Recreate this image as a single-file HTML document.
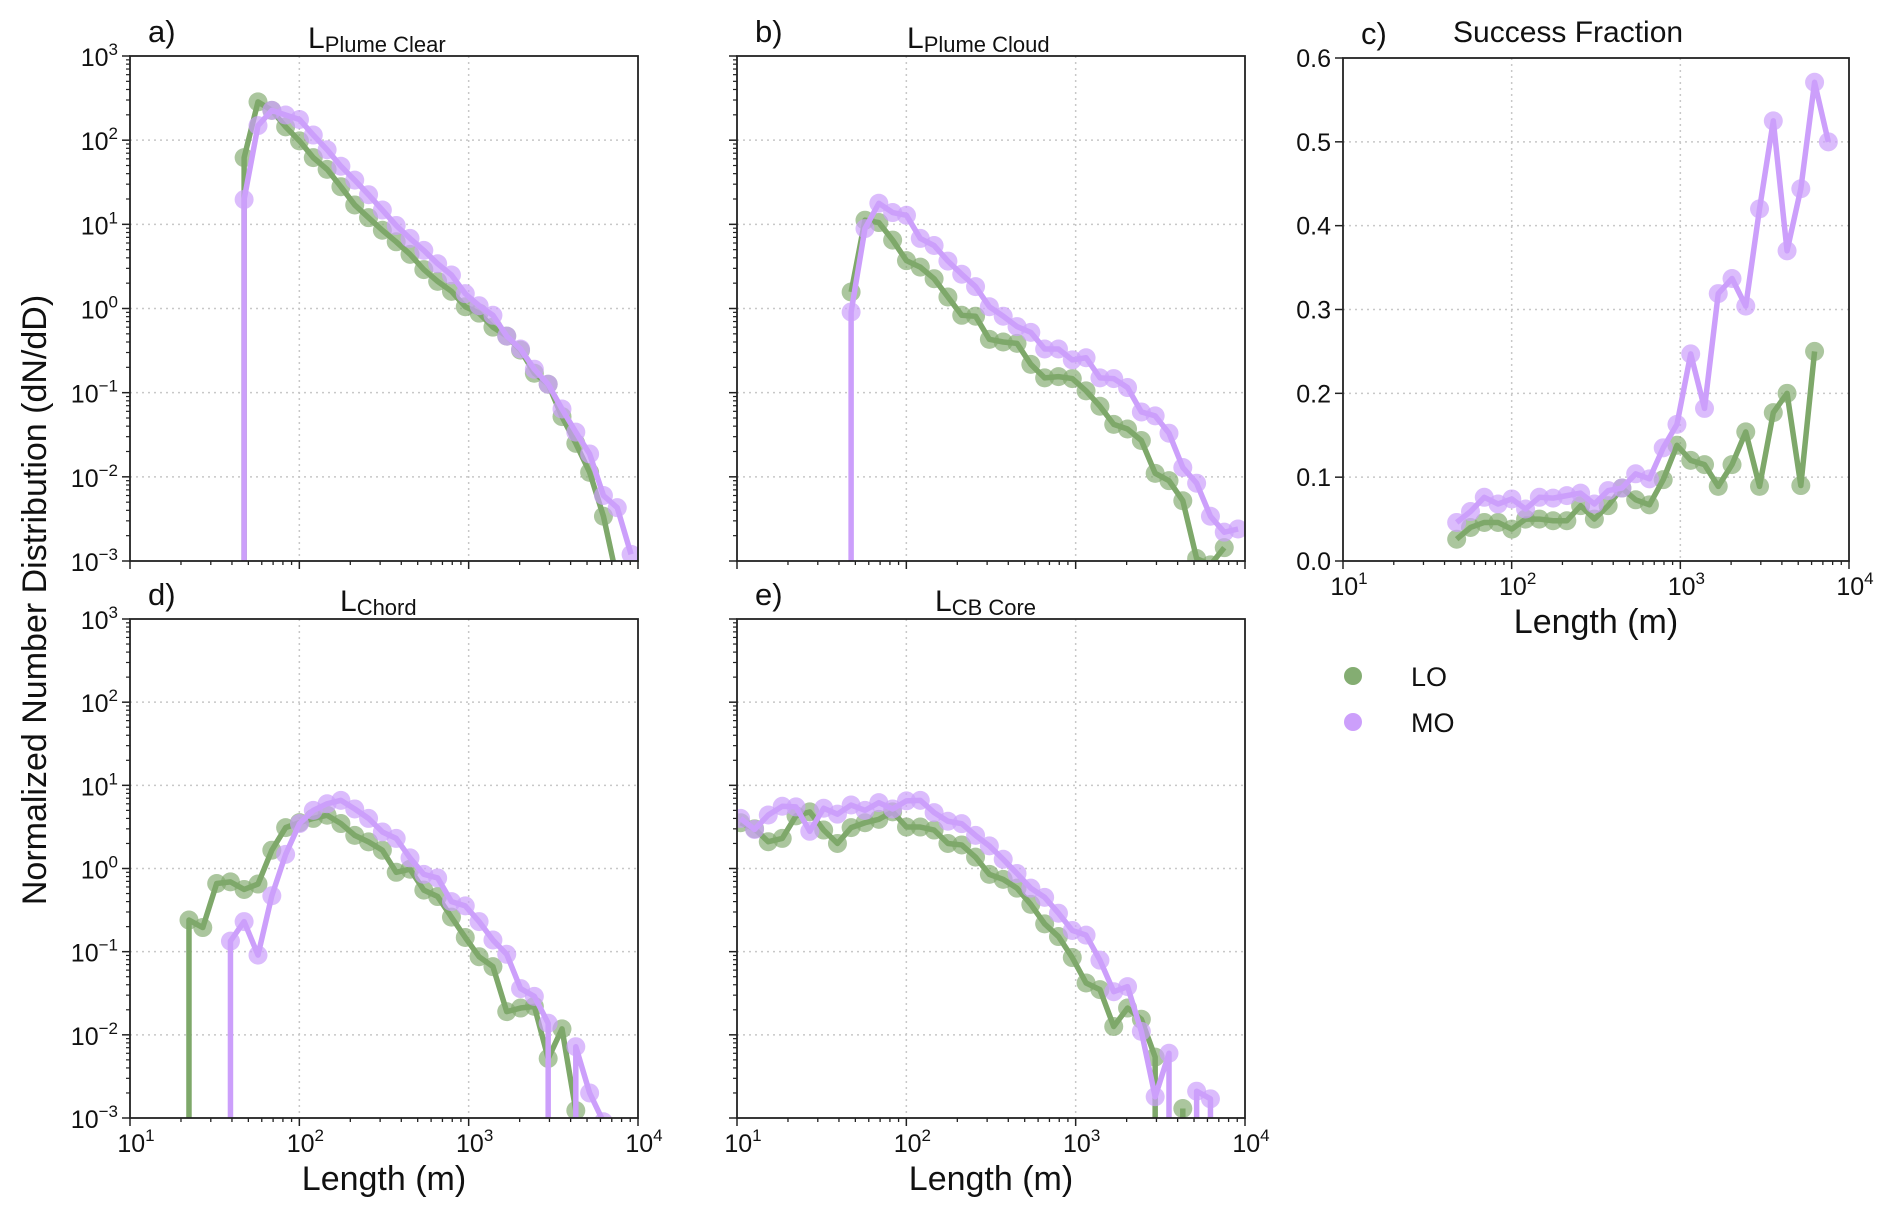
<!DOCTYPE html>
<html><head><meta charset="utf-8">
<style>
html,body{margin:0;padding:0;background:#fff;width:1892px;height:1217px;overflow:hidden;}
svg{display:block;font-family:"Liberation Sans",sans-serif;overflow:hidden;}
</style></head>
<body>
<svg id="fig" width="1892" height="1217" viewBox="0 0 1892 1217" xmlns="http://www.w3.org/2000/svg">
<rect width="1892" height="1217" fill="#fff"/>
<text transform="translate(46,600) rotate(-90)" text-anchor="middle" font-size="34" fill="#111">Normalized Number Distribution (dN/dD)</text>
<g>
  <circle cx="1353" cy="676" r="9" fill="#84ad72"/>
  <text x="1411" y="686" font-size="27" fill="#111">LO</text>
  <circle cx="1353" cy="722" r="9" fill="#cc9ffb"/>
  <text x="1411" y="732" font-size="27" fill="#111">MO</text>
</g>
</svg>
<script>
// shared length bins (m)
const bins = [10.5,12.7,15.3,18.5,22.3,26.9,32.5,39.2,47.2,57.0,68.8,83.0,100.2,120.9,145.9,176.0,212.4,256.3,309.3,373.3,450.5,543.5,655.9,791.5,955.0,1152,1391,1678,2025,2443,2948,3558,4293,5180,6251,7543,9102];
const yTickExps = [-3,-2,-1,0,1,2,3];
const xTickExps = [1,2,3,4];
const cTicks = ["0.0","0.1","0.2","0.3","0.4","0.5","0.6"];
const cTickVals = [0,0.1,0.2,0.3,0.4,0.5,0.6];
const N = null;
// panel a: L Plume Clear
const aLO = [N,N,N,N,N,N,N,0,62,285,226,144,98,62,45,28,17,12,8.5,6.2,4.4,2.9,2.1,1.6,1.05,0.88,0.6,0.47,0.32,0.17,0.126,0.052,0.025,0.0113,0.0034,0.0006];
const aMO = [N,N,N,N,N,N,N,0,19.7,149,226,199,176,115,77,49,33.5,22.5,14.8,9.7,6.8,4.9,3.4,2.5,1.5,1.08,0.83,0.47,0.33,0.19,0.126,0.064,0.034,0.0187,0.006,0.0043,0.0012];
// panel b: L Plume Cloud
const bLO = [N,N,N,N,N,N,N,N,1.57,11.2,10.5,6.5,3.7,3.1,2.26,1.37,0.83,0.81,0.43,0.40,0.385,0.217,0.15,0.155,0.147,0.105,0.069,0.042,0.037,0.027,0.011,0.009,0.0052,0.00107,0.0009,0.00144];
const bMO = [N,N,N,N,N,N,N,0,0.91,8.9,17.8,13.8,12.8,6.8,5.6,3.66,2.55,1.82,1.05,0.81,0.61,0.52,0.33,0.33,0.245,0.26,0.15,0.147,0.115,0.059,0.053,0.033,0.0129,0.0084,0.0034,0.0022,0.0024];
// panel c: success fraction
const cLO = [N,N,N,N,N,N,N,N,0.026,0.040,0.046,0.046,0.038,0.050,0.050,0.048,0.048,0.066,0.050,0.066,0.087,0.073,0.067,0.097,0.138,0.12,0.115,0.089,0.115,0.154,0.089,0.177,0.2,0.09,0.25];
const cMO = [N,N,N,N,N,N,N,N,0.046,0.059,0.076,0.068,0.074,0.062,0.076,0.075,0.078,0.081,0.068,0.084,0.087,0.104,0.098,0.135,0.163,0.247,0.182,0.319,0.337,0.304,0.42,0.525,0.37,0.444,0.571,0.5];
// panel d: L Chord
const dLO = [N,N,N,0,0.24,0.195,0.66,0.69,0.56,0.65,1.66,3.1,3.56,4.0,4.37,3.47,2.5,2.09,1.66,0.9,0.98,0.55,0.46,0.26,0.148,0.087,0.066,0.019,0.021,0.022,0.0052,0.0118,0.00123,0];
const dMO = [N,N,N,N,N,N,0,0.134,0.23,0.091,0.47,1.48,3.47,5.0,6.0,6.6,5.2,4.0,2.75,2.3,1.34,0.85,0.77,0.4,0.355,0.23,0.138,0.093,0.036,0.029,0.0138,0,0.0072,0.0020,0.0009];
// panel e: L CB Core
const eLO = [3.55,3.0,2.1,2.3,4.3,4.8,2.9,2.0,3.1,3.55,3.9,4.8,3.15,3.15,2.9,2.0,1.92,1.37,0.85,0.74,0.58,0.37,0.216,0.152,0.085,0.042,0.035,0.0126,0.021,0.0154,0.0054,0,0.0013];
const eMO = [4.0,2.95,4.4,5.6,5.5,2.8,5.3,4.5,5.8,5.0,6.2,5.2,6.5,6.6,4.7,3.7,3.46,2.5,1.87,1.29,0.87,0.58,0.45,0.29,0.18,0.158,0.079,0.033,0.038,0.011,0.0018,0.006,0,0.0021,0.0017,0];

const NS = "http://www.w3.org/2000/svg";
const svg = document.getElementById('fig');
const GREEN = "#7ea86a", GREEN_M = "rgba(126,168,106,0.65)";
const PURP = "#cc9ffb", PURP_M = "rgba(204,159,251,0.7)";
function mk(tag, attrs, parent){ const e=document.createElementNS(NS,tag); for(const k in attrs) e.setAttribute(k,attrs[k]); (parent||svg).appendChild(e); return e; }

function powLabel(g, x, y, exp, anchor){
  const t = mk('text',{x:x,y:y,'font-size':25,fill:'#111','text-anchor':anchor}, g);
  
  
  const a = document.createElementNS(NS,'tspan'); a.textContent='10'; t.appendChild(a);
  const b = document.createElementNS(NS,'tspan'); b.setAttribute('dy','-11'); b.setAttribute('font-size','17');
  b.textContent = exp<0 ? '\u2212'+(-exp) : String(exp); t.appendChild(b);
}

function panel(P){
  const g = mk('g',{});
  
  
  const X = v => P.x0 + (Math.log10(v)-1)/3*(P.x1-P.x0);
  const Y = P.lin ? (v => P.y1 - v/0.6*(P.y1-P.y0))
                  : (v => P.y1 - (Math.log10(v)+3)/6*(P.y1-P.y0));
  const BELOW = P.y1 + 20;
  const cid = 'clip'+P.id;
  const cp = mk('clipPath',{id:cid},g); mk('rect',{x:P.x0,y:P.y0,width:P.x1-P.x0,height:P.y1-P.y0},cp);
  for(const e of [2,3]){ const gx=X(Math.pow(10,e)); const l=mk('line',{x1:gx,x2:gx,y1:P.y0,y2:P.y1,stroke:'#c8c8c8','stroke-width':1.5,'stroke-dasharray':'2,4'},g);   }
  const yvals = P.lin ? cTickVals.slice(1,6) : yTickExps.slice(1,6).map(e=>Math.pow(10,e));
  for(const v of yvals){ const gy=Y(v); const l=mk('line',{x1:P.x0,x2:P.x1,y1:gy,y2:gy,stroke:'#c8c8c8','stroke-width':1.5,'stroke-dasharray':'2,4'},g);   }
  for(let e=1;e<4;e++){ for(let m=2;m<10;m++){ const tx=X(m*Math.pow(10,e)); mk('line',{x1:tx,x2:tx,y1:P.y1,y2:P.y1+4,stroke:'#222','stroke-width':1.3},g);} }
  xTickExps.forEach(e=>{ const tx=X(Math.pow(10,e)); mk('line',{x1:tx,x2:tx,y1:P.y1,y2:P.y1+8,stroke:'#222','stroke-width':1.5},g);
    if(P.xlab) powLabel(g, tx+6, P.y1+34, e, 'middle'); });
  if(P.lin){
    cTickVals.forEach((v,i)=>{ const ty=Y(v); mk('line',{x1:P.x0-8,x2:P.x0,y1:ty,y2:ty,stroke:'#222','stroke-width':1.5},g);
      const t=mk('text',{x:P.x0-12,y:ty+9,'font-size':25,fill:'#111','text-anchor':'end'},g); t.textContent=cTicks[i];
        });
  } else {
    for(let e=-3;e<3;e++){ for(let m=2;m<10;m++){ const ty=Y(m*Math.pow(10,e)); mk('line',{x1:P.x0-4,x2:P.x0,y1:ty,y2:ty,stroke:'#222','stroke-width':1.2},g);} }
    yTickExps.forEach(e=>{ const ty=Y(Math.pow(10,e)); mk('line',{x1:P.x0-8,x2:P.x0,y1:ty,y2:ty,stroke:'#222','stroke-width':1.5},g);
      if(P.ylab) powLabel(g, P.x0-12, ty+10, e, 'end'); });
  }
  const sg = mk('g',{'clip-path':'url(#'+cid+')'},g);
  [[P.lo,GREEN,GREEN_M,'lo'],[P.mo,PURP,PURP_M,'mo']].forEach(([arr,lc,mc,nm])=>{
    // log-scale zeros: line drops vertically to below the axis (matplotlib clipping behaviour)
    let d='', prev=null, pendingDrop=false;
    arr.forEach((v,i)=>{
      if(v===null){ prev=null; pendingDrop=false; return; }
      if(!P.lin && v<=0){
        if(prev){ d += 'L'+prev[0].toFixed(2)+','+BELOW+' '; }
        prev=null; pendingDrop=true; return;
      }
      const px=X(bins[i]), py=Y(v);
      if(prev){ d += 'L'+px.toFixed(2)+','+py.toFixed(2)+' '; }
      else if(pendingDrop){ d += 'M'+px.toFixed(2)+','+BELOW+' L'+px.toFixed(2)+','+py.toFixed(2)+' '; }
      else { d += 'M'+px.toFixed(2)+','+py.toFixed(2)+' '; }
      prev=[px,py]; pendingDrop=false;
    });
    const p = mk('path',{d:d,fill:'none',stroke:lc,'stroke-width':5.5,'stroke-linejoin':'round'},sg);
    
    
    arr.forEach((v,i)=>{ if(v===null||v<=0) return;
      const c = mk('circle',{cx:X(bins[i]).toFixed(2),cy:Y(v).toFixed(2),r:9.5,fill:mc},sg);
      
       });
  });
  const f = mk('rect',{x:P.x0,y:P.y0,width:P.x1-P.x0,height:P.y1-P.y0,fill:'none',stroke:'#222','stroke-width':1.8},g);
  
  
  const lt = mk('text',{x:P.x0+18,y:P.y0-14,'font-size':31,fill:'#111'},g); lt.textContent=P.id+')';
   
  const tt = mk('text',{x:P.tx,y:P.y0-8,'font-size':30,fill:'#111'},g);
   
  if(P.sub!==undefined){
    const a=document.createElementNS(NS,'tspan'); a.textContent='L'; tt.appendChild(a);
    const b=document.createElementNS(NS,'tspan'); b.setAttribute('font-size','22'); b.setAttribute('dy','4'); b.textContent=P.sub; tt.appendChild(b);
  } else { tt.setAttribute('y',P.y0-16); tt.textContent=P.title; }
  if(P.xlab){ const xl=mk('text',{x:(P.x0+P.x1)/2,y:P.y1+72,'font-size':34,fill:'#111','text-anchor':'middle'},g); xl.textContent='Length (m)';
      }
}

panel({id:'a',x0:130,x1:638,y0:56,y1:561,lo:aLO,mo:aMO,sub:'Plume Clear',tx:308,xlab:false,ylab:true});
panel({id:'b',x0:737,x1:1245,y0:56,y1:561,lo:bLO,mo:bMO,sub:'Plume Cloud',tx:907,xlab:false,ylab:false});
panel({id:'c',x0:1343,x1:1849,y0:58,y1:561,lo:cLO,mo:cMO,title:'Success Fraction',tx:1453,xlab:true,lin:true});
panel({id:'d',x0:130,x1:638,y0:619,y1:1118,lo:dLO,mo:dMO,sub:'Chord',tx:340,xlab:true,ylab:true});
panel({id:'e',x0:737,x1:1245,y0:619,y1:1118,lo:eLO,mo:eMO,sub:'CB Core',tx:935,xlab:true,ylab:false});
</script>
</body></html>
